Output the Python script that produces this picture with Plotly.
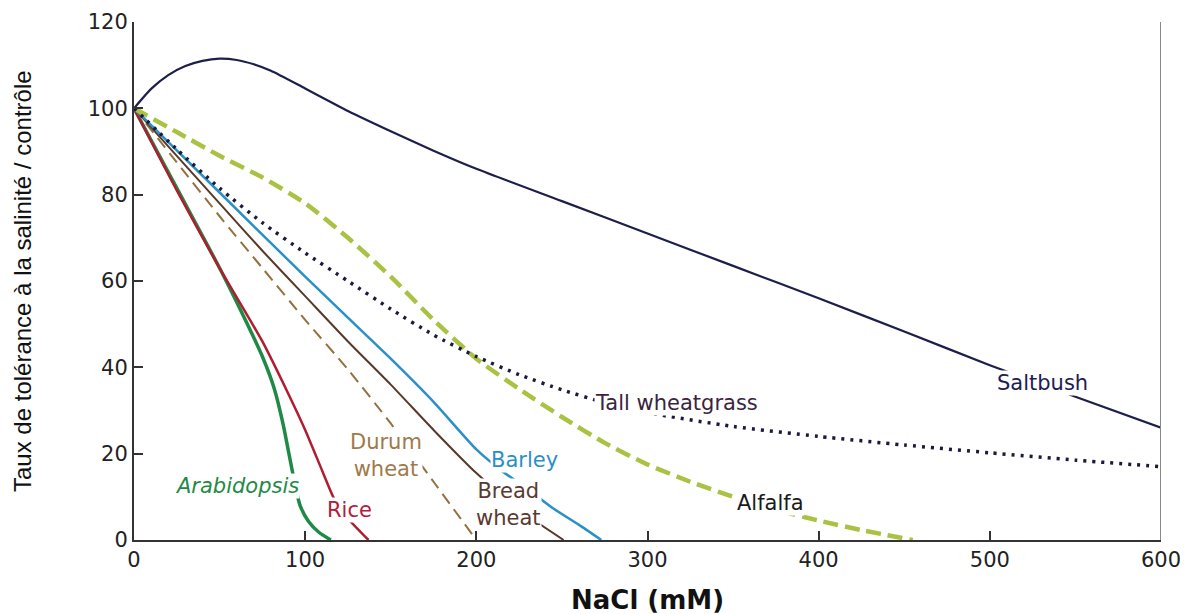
import plotly.graph_objects as go

# ---- data ----
saltbush_x = [0, 10, 20, 30, 40, 50, 60, 70, 80, 100, 125, 150, 175, 200, 250, 300, 350, 400, 450, 500, 550, 600]
saltbush_y = [100, 104.5, 107.7, 109.8, 111.0, 111.5, 111.2, 110.2, 108.7, 104.6, 99.4, 94.7, 90.2, 86.0, 78.5, 71.0, 63.5, 56.0, 48.3, 40.5, 33.2, 26.0]

tallwg_x = [0, 25, 50, 75, 100, 125, 150, 175, 200, 225, 250, 275, 300, 350, 400, 450, 500, 550, 600]
tallwg_y = [100, 90.5, 81.5, 73.5, 66.5, 60, 53.5, 47.5, 42.5, 38.3, 34.8, 31.8, 29.5, 26.3, 24, 22, 20.2, 18.5, 17]

alfalfa_x = [0, 25, 50, 75, 100, 125, 150, 175, 200, 225, 250, 275, 300, 325, 350, 375, 400, 425, 455]
alfalfa_y = [100, 94.5, 89, 84, 78, 70, 61, 51, 42, 35, 28.5, 22.5, 17.5, 13.5, 10, 7, 4.5, 2.3, 0]

barley_x = [0, 50, 100, 150, 175, 200, 215, 230, 245, 260, 273]
barley_y = [100, 80.5, 61, 42, 32, 21, 16, 11.8, 7.3, 3.5, 0]

bread_x = [0, 25, 50, 75, 100, 125, 150, 175, 200, 225, 251]
bread_y = [100, 89, 78, 67, 56.5, 46, 36, 25.5, 15.5, 7, 0]

durum_x = [0, 25, 50, 75, 100, 125, 150, 175, 200]
durum_y = [100, 87.5, 75, 63, 51, 39.5, 27, 13.5, 0]

rice_x = [0, 25, 50, 75, 90, 100, 110, 117, 125, 137]
rice_y = [100, 81, 63, 46, 34, 25.5, 16, 9.5, 5, 0]

arab_x = [0, 25, 50, 65, 75, 82, 87, 91, 94, 97, 102, 108, 115]
arab_y = [100, 81.5, 63, 51, 42.5, 35, 27, 19, 13, 8, 4.3, 1.8, 0]

x_ticks = [0, 100, 200, 300, 400, 500, 600]
y_ticks = [0, 20, 40, 60, 80, 100, 120]

labels = [
    # text, x, y, color, italic
    ("Arabidopsis", 60, 12.6, "#1f8a45", True),
    ("Rice", 126, 7, "#b0203a", False),
    ("Durum<br>wheat", 147, 19.5, "#a07a4a", False),
    ("Barley", 228, 18.6, "#2a8fc4", False),
    ("Bread<br>wheat", 219, 8.3, "#5a3a30", False),
    ("Tall wheatgrass", 317, 31.7, "#3a2440", False),
    ("Alfalfa", 372, 8.5, "#1a1a1a", False),
    ("Saltbush", 531, 36.3, "#1c2050", False),
]

fig = go.Figure()

def add(x, y, color, width, dash="solid"):
    fig.add_trace(go.Scatter(x=x, y=y, mode="lines",
                             line=dict(color=color, width=width, dash=dash,
                                       shape="spline", smoothing=0.6),
                             showlegend=False, hoverinfo="skip"))

add(arab_x, arab_y, "#1f8a45", 3.5)
add(rice_x, rice_y, "#b01c30", 2.5)
add(durum_x, durum_y, "#94703f", 2, dash="12px,7px")
add(bread_x, bread_y, "#5a3828", 2)
add(barley_x, barley_y, "#2a90c8", 2.5)
add(alfalfa_x, alfalfa_y, "#a9c243", 4.5, dash="15px,7px")
add(tallwg_x, tallwg_y, "#1a1a3c", 3.5, dash="3px,6px")
add(saltbush_x, saltbush_y, "#1c1f4a", 2.2)

lab_font = "DejaVu Sans, Verdana, sans-serif"
for text, lx, ly, col, it in labels:
    t = f"<i>{text}</i>" if it else text
    fig.add_annotation(x=lx, y=ly, text=t, showarrow=False,
                       font=dict(family=lab_font, size=21, color=col),
                       bgcolor="white", borderpad=0, align="center")

# axis titles
fig.add_annotation(xref="paper", yref="paper", x=0.5, y=0, yshift=-60,
                   text="<b>NaCl (mM)</b>", showarrow=False, yanchor="middle",
                   font=dict(family=lab_font, size=26, color="#111111"))
fig.add_annotation(xref="paper", yref="paper", x=0, y=0.5, xshift=-112,
                   text="Taux de tolérance à la salinité / contrôle", showarrow=False,
                   textangle=-90, xanchor="center", yanchor="middle",
                   font=dict(family="Liberation Sans Narrow, Arial Narrow, Liberation Sans, sans-serif",
                             size=24, color="#111111"))

# right frame line
fig.add_shape(type="line", x0=600, x1=600, y0=0, y1=120, xref="x", yref="y",
              line=dict(color="#888888", width=2))

axis_font = dict(family=lab_font, size=21, color="#222222")

fig.update_xaxes(range=[0, 600], tickvals=x_ticks, ticktext=[str(v) for v in x_ticks],
                 showline=True, linecolor="#333333", linewidth=2,
                 ticks="inside", ticklen=9, tickwidth=1.5, tickcolor="#333333",
                 showgrid=False, zeroline=False, tickfont=axis_font, automargin=False,
                 ticklabeloverflow="allow")
fig.update_yaxes(range=[0, 120], tickvals=y_ticks, ticktext=[str(v) for v in y_ticks],
                 showline=True, linecolor="#333333", linewidth=2,
                 ticks="inside", ticklen=9, tickwidth=1.5, tickcolor="#333333",
                 showgrid=False, zeroline=False, tickfont=axis_font, automargin=False,
                 ticklabeloverflow="allow")

fig.update_layout(width=1188, height=614, plot_bgcolor="white", paper_bgcolor="white",
                  margin=dict(l=126, r=35, t=14, b=82))

fig.write_html("out.html")
